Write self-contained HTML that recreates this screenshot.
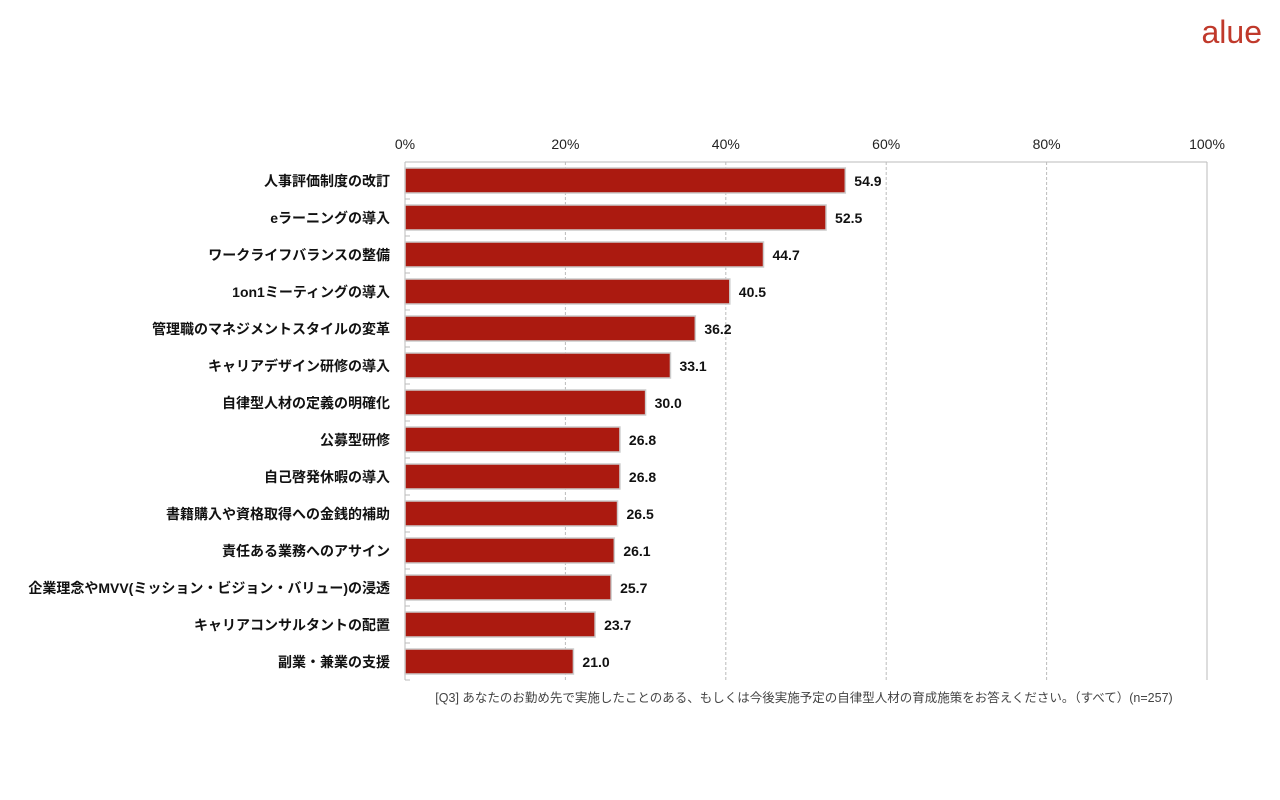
<!DOCTYPE html>
<html><head><meta charset="utf-8"><style>
html,body{margin:0;padding:0;background:#fff;width:1280px;height:800px;overflow:hidden}
svg text{font-family:"Liberation Sans","Noto Sans CJK JP",sans-serif}
</style></head><body>
<svg id="chart" width="1280" height="800">
<text x="1262" y="43" text-anchor="end" font-size="32" fill="#c0392b">alue</text>
<g id="grid"></g><g id="bars"></g>
<text x="804" y="702" text-anchor="middle" font-size="12.5" fill="#444">[Q3] あなたのお勤め先で実施したことのある、もしくは今後実施予定の自律型人材の育成施策をお答えください。（すべて）(n=257)</text>
</svg>
<script>
const categories=["人事評価制度の改訂","eラーニングの導入","ワークライフバランスの整備","1on1ミーティングの導入","管理職のマネジメントスタイルの変革","キャリアデザイン研修の導入","自律型人材の定義の明確化","公募型研修","自己啓発休暇の導入","書籍購入や資格取得への金銭的補助","責任ある業務へのアサイン","企業理念やMVV(ミッション・ビジョン・バリュー)の浸透","キャリアコンサルタントの配置","副業・兼業の支援"];
const values=[54.9,52.5,44.7,40.5,36.2,33.1,30.0,26.8,26.8,26.5,26.1,25.7,23.7,21.0];
const ticks=[0,20,40,60,80,100];
const tickLabels=["0%","20%","40%","60%","80%","100%"];
const NS="http://www.w3.org/2000/svg";
const x0=405,x1=1207,yTop=162,rowH=37,yBottom=yTop+rowH*categories.length;
const xs=v=>x0+(x1-x0)*v/100;
const ys=i=>yTop+i*rowH;
function mk(t,a,p){const e=document.createElementNS(NS,t);for(const k in a)e.setAttribute(k,a[k]);p.appendChild(e);return e;}
const grid=document.getElementById('grid'),bars=document.getElementById('bars');
ticks.forEach((t,i)=>{
 const l=mk('line',{x1:xs(t),x2:xs(t),y1:yTop,y2:yBottom,stroke:'#bbb','stroke-dasharray':(i==0||i==ticks.length-1)?'none':'3,2'},grid);
 
 
 const tx=mk('text',{x:xs(t),y:149,'text-anchor':'middle','font-size':14,fill:'#222'},grid);
 tx.textContent=tickLabels[i];
 
 
});
const ax=mk('line',{x1:x0,x2:x1,y1:yTop,y2:yTop,stroke:'#bbb'},grid);


for(let i=0;i<=categories.length;i++){mk('line',{x1:x0,x2:x0+5,y1:ys(i),y2:ys(i),stroke:'#bbb'},grid);}
categories.forEach((c,i)=>{
 const y=ys(i);
 const r=mk('rect',{x:x0,y:y+6,width:xs(values[i])-x0,height:25,fill:'#ab1a10',stroke:'#ccc','stroke-width':1.5},bars);
 
 
 const lb=mk('text',{x:390,y:y+24,'text-anchor':'end','font-size':14,'font-weight':'bold',fill:'#111'},bars);
 lb.textContent=c;
 
 
 const vl=mk('text',{x:xs(values[i])+9,y:y+24,'font-size':14,'font-weight':'bold',fill:'#111'},bars);
 vl.textContent=values[i].toFixed(1);
 
 
});
</script>
</body></html>
